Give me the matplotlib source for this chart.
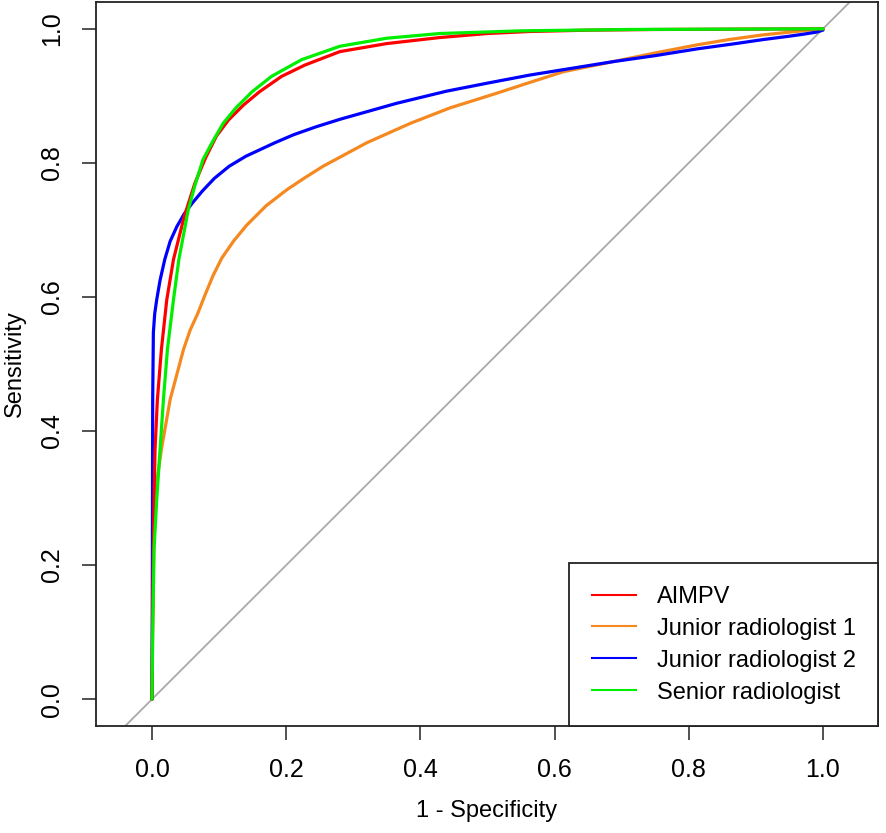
import matplotlib
matplotlib.use('Agg')
from matplotlib import pyplot as plt
from matplotlib.lines import Line2D

plt.rcParams['font.family'] = ['Liberation Sans', 'DejaVu Sans']

# ROC curves (1 - specificity, sensitivity)
aimpv_fpr = [0, 0.001, 0.003, 0.0045, 0.008, 0.014, 0.022, 0.032, 0.048, 0.064, 0.08, 0.096,
             0.114, 0.136, 0.16, 0.193, 0.228, 0.28, 0.35, 0.429, 0.5, 0.563, 0.65, 0.75, 1.0]
aimpv_tpr = [0, 0.15, 0.298, 0.373, 0.447, 0.522, 0.596, 0.656, 0.720, 0.770, 0.808, 0.840,
             0.864, 0.886, 0.906, 0.929, 0.946, 0.966, 0.978, 0.987, 0.993, 0.996, 0.998, 0.999, 1.0]

junior1_fpr = [0, 0.001, 0.003, 0.007, 0.014, 0.027, 0.047, 0.057, 0.068, 0.079, 0.091, 0.104,
               0.122, 0.141, 0.17, 0.201, 0.228, 0.255, 0.32, 0.385, 0.444, 0.514, 0.563,
               0.613, 0.687, 0.75, 0.812, 0.86, 0.911, 0.96, 1.0]
junior1_tpr = [0, 0.12, 0.249, 0.323, 0.373, 0.447, 0.522, 0.551, 0.575, 0.603, 0.632, 0.658,
               0.684, 0.707, 0.736, 0.760, 0.778, 0.795, 0.830, 0.859, 0.882, 0.904, 0.920,
               0.936, 0.951, 0.964, 0.976, 0.984, 0.991, 0.996, 1.0]

junior2_fpr = [0, 0.0005, 0.001, 0.002, 0.004, 0.007, 0.012, 0.019, 0.027, 0.037, 0.048, 0.06,
               0.075, 0.093, 0.115, 0.14, 0.183, 0.211, 0.245, 0.28, 0.365, 0.439, 0.5, 0.563,
               0.625, 0.687, 0.75, 0.812, 0.87, 0.911, 0.95, 0.971, 0.99, 1.0]
junior2_tpr = [0, 0.2, 0.447, 0.547, 0.575, 0.596, 0.625, 0.656, 0.683, 0.705, 0.724, 0.740,
               0.758, 0.777, 0.795, 0.810, 0.830, 0.842, 0.854, 0.865, 0.889, 0.907, 0.919, 0.931,
               0.941, 0.951, 0.960, 0.970, 0.978, 0.984, 0.989, 0.992, 0.995, 0.998]

senior_fpr = [0, 0.001, 0.003, 0.007, 0.012, 0.017, 0.023, 0.032, 0.04, 0.054, 0.065, 0.076,
              0.091, 0.106, 0.125, 0.149, 0.178, 0.223, 0.28, 0.35, 0.429, 0.55, 0.712, 1.0]
senior_tpr = [0, 0.1, 0.224, 0.298, 0.373, 0.447, 0.522, 0.596, 0.656, 0.730, 0.770, 0.805,
              0.833, 0.859, 0.882, 0.906, 0.929, 0.954, 0.974, 0.986, 0.993, 0.997, 0.999, 1.0]

labels = ['AIMPV', 'Junior radiologist 1', 'Junior radiologist 2', 'Senior radiologist']
colors = ['#FF0000', '#F5891F', '#0000FF', '#00EE00']

fig = plt.figure(figsize=(8.86, 8.33), dpi=100)
ax = fig.add_axes([96 / 886, 1 - 726 / 833, 782 / 886, 724 / 833])

ax.axline((0, 0), slope=1, color='#A9A9A9', lw=1.3, zorder=1)

curves = [(aimpv_fpr, aimpv_tpr), (junior1_fpr, junior1_tpr),
          (junior2_fpr, junior2_tpr), (senior_fpr, senior_tpr)]
# draw order as in the original: orange, blue, red, green on top
for i in [1, 2, 0, 3]:
    fpr, tpr = curves[i]
    ax.plot(fpr, tpr, color=colors[i], lw=2.3, zorder=2,
            solid_capstyle='round', solid_joinstyle='round')

ax.set_xlim(-0.0835, 1.082)
ax.set_ylim(-0.04, 1.04)
ticks = [0, 0.2, 0.4, 0.6, 0.8, 1.0]
tick_labels = ['0.0', '0.2', '0.4', '0.6', '0.8', '1.0']
ax.set_xticks(ticks)
ax.set_yticks(ticks)
ax.set_xticklabels(tick_labels)
ax.set_yticklabels(tick_labels, rotation=90, va='center')
ax.tick_params(direction='out', length=10, width=1.1, labelsize=18, pad=13, color='#222222')
for s in ax.spines.values():
    s.set_linewidth(1.3)
    s.set_color('#222222')

ax.set_xlabel('1 - Specificity', fontsize=17, labelpad=13)
ax.set_ylabel('Sensitivity', fontsize=17, labelpad=10)

handles = [Line2D([], [], color=c, lw=1.5) for c in colors]
leg = ax.legend(handles, labels, loc='lower right', fontsize=17, frameon=True,
                fancybox=False, framealpha=1, edgecolor='#222222',
                borderaxespad=0, handlelength=1.9, handletextpad=0.85,
                borderpad=0.95, labelspacing=0.42)
leg.get_frame().set_linewidth(1.3)

plt.savefig('out.png', dpi=100)
